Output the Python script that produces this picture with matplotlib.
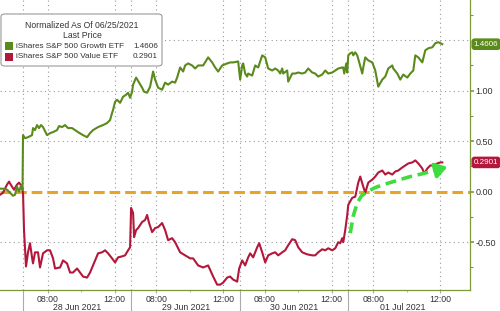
import numpy as np
import matplotlib
matplotlib.use("Agg")
import matplotlib.pyplot as plt
from matplotlib.patches import FancyBboxPatch, Rectangle

plt.rcParams['font.family'] = ['Liberation Sans', 'DejaVu Sans']

# x = trading-session hours since 28 Jun 06:30 (each day = 6.5 h), 25 Jun tail is negative
growth_x = [-1.38, -1.2, -0.96, -0.78, -0.6, -0.48, -0.36, -0.24, -0.12, -0.03,
            0.0, 0.12, 0.3, 0.54, 0.6, 0.72, 0.84, 0.96, 1.08, 1.2, 1.44, 1.62, 1.8, 2.04, 2.16,
            2.34, 2.52, 2.7, 2.94, 3.12, 3.3, 3.6, 3.84, 4.02, 4.2, 4.5, 4.8, 5.04, 5.22, 5.34,
            5.4, 5.52, 5.64, 5.82, 6.0, 6.18, 6.3, 6.42, 6.54, 6.6, 6.78, 6.96, 7.14, 7.26, 7.44,
            7.62, 7.74, 7.8, 7.92, 8.1, 8.34, 8.52, 8.7, 8.94, 9.12, 9.24, 9.42, 9.6, 9.72, 9.9,
            10.14, 10.32, 10.5, 10.8, 11.1, 11.34, 11.52, 11.7, 11.94, 12.24, 12.42, 12.6, 12.9,
            13.02, 13.14, 13.2, 13.32, 13.44, 13.5, 13.74, 13.92, 14.1, 14.34, 14.52, 14.7, 14.94,
            15.12, 15.3, 15.42, 15.54, 15.6, 15.84, 15.9, 16.14, 16.32, 16.5, 16.74, 16.92, 17.1,
            17.34, 17.52, 17.7, 17.94, 18.12, 18.3, 18.54, 18.72, 18.9, 19.14, 19.2, 19.26, 19.38,
            19.44, 19.5, 19.62, 19.74, 19.8, 19.92, 20.04, 20.16, 20.34, 20.4, 20.52, 20.7, 20.94,
            21.12, 21.24, 21.3, 21.54, 21.72, 21.9, 22.14, 22.2, 22.44, 22.62, 22.8, 23.04, 23.22,
            23.4, 23.52, 23.7, 23.94, 24.12, 24.3, 24.54, 24.72, 24.9, 25.14]
growth_y = [0.03, 0.03, 0.02, -0.01, -0.04, -0.03, 0.05, 0.0, 0.06, 0.02,
            0.56, 0.53, 0.54, 0.56, 0.63, 0.61, 0.66, 0.63, 0.66, 0.64, 0.56, 0.58, 0.59, 0.61, 0.65,
            0.64, 0.66, 0.63, 0.63, 0.61, 0.59, 0.56, 0.54, 0.58, 0.61, 0.64, 0.66, 0.68, 0.71, 0.78,
            0.81, 0.89, 0.91, 0.88, 0.94, 0.96, 0.98, 0.93, 0.99, 1.06, 1.13, 1.08, 1.03, 0.99, 0.98,
            1.04, 1.14, 1.19, 1.11, 1.03, 1.01, 1.08, 1.06, 1.09, 1.08, 1.13, 1.23, 1.19, 1.25, 1.27,
            1.25, 1.22, 1.25, 1.25, 1.33, 1.28, 1.23, 1.19, 1.25, 1.27, 1.28, 1.28, 1.29,
            1.11, 1.25, 1.27, 1.17, 1.14, 1.17, 1.15, 1.25, 1.23, 1.35, 1.33, 1.22, 1.2,
            1.22, 1.2, 1.17, 1.22, 1.17, 1.2, 1.09, 1.17, 1.17, 1.18, 1.17, 1.18, 1.22,
            1.18, 1.17, 1.14, 1.16, 1.2, 1.17, 1.18, 1.2, 1.22, 1.23, 1.23, 1.17, 1.27,
            1.18, 1.35, 1.37, 1.38, 1.35, 1.38, 1.35, 1.28, 1.17, 1.23, 1.33, 1.3, 1.28,
            1.2, 1.09, 1.04, 1.11, 1.14, 1.22, 1.25, 1.22, 1.17, 1.11, 1.16, 1.13, 1.17,
            1.2, 1.35, 1.33, 1.28, 1.4, 1.42, 1.43, 1.47, 1.48, 1.4606]

value_x = [-1.38, -1.2, -0.96, -0.84, -0.66, -0.54, -0.36, -0.24, -0.06,
           0.0, 0.06, 0.18, 0.3, 0.42, 0.54, 0.6, 0.72, 0.9, 1.02, 1.2, 1.44, 1.62, 1.8, 1.92,
           2.22, 2.4, 2.64, 2.82, 3.0, 3.24, 3.42, 3.6, 3.84, 4.02, 4.32, 4.5, 4.74, 4.92, 5.1,
           5.34, 5.52, 5.7, 5.94, 6.12, 6.3, 6.42, 6.48, 6.6, 6.66, 6.78, 6.9, 7.14, 7.32, 7.44,
           7.56, 7.74, 7.92, 8.1, 8.34, 8.52, 8.7, 8.94, 9.12, 9.42, 9.72, 10.02, 10.2, 10.5,
           10.8, 11.1, 11.4, 11.64, 11.82, 12.0, 12.24, 12.42, 12.6, 12.84, 12.96, 13.14, 13.32,
           13.5, 13.62, 13.8, 14.04, 14.16, 14.34, 14.52, 14.7, 14.94, 15.12, 15.3, 15.54, 15.72,
           15.9, 16.14, 16.32, 16.5, 16.74, 17.04, 17.34, 17.52, 17.7, 17.94, 18.12, 18.3, 18.54,
           18.72, 18.9, 19.02, 19.14, 19.2, 19.32, 19.44, 19.5, 19.74, 19.92, 20.1, 20.22, 20.4,
           20.52, 20.7, 20.94, 21.12, 21.3, 21.54, 21.72, 21.9, 22.14, 22.32, 22.5, 22.74, 22.92,
           23.1, 23.34, 23.52, 23.7, 23.94, 24.06, 24.24, 24.42, 24.6, 24.84, 25.02, 25.14]
value_y = [-0.03, -0.01, 0.07, 0.1, 0.05, 0.02, 0.07, 0.09, 0.05,
           -0.01, -0.38, -0.74, -0.6, -0.51, -0.65, -0.71, -0.6, -0.6, -0.75, -0.61, -0.58, -0.58, -0.66, -0.76,
           -0.75, -0.68, -0.71, -0.8, -0.8, -0.76, -0.8, -0.84, -0.85, -0.8, -0.68, -0.61, -0.6, -0.58, -0.61,
           -0.66, -0.7, -0.65, -0.64, -0.63, -0.58, -0.55, -0.16, -0.21, -0.45, -0.38, -0.36, -0.3, -0.28, -0.23,
           -0.31, -0.4, -0.36, -0.35, -0.31, -0.38, -0.48, -0.46, -0.5, -0.6, -0.63, -0.66, -0.66, -0.73,
           -0.75, -0.73, -0.84, -0.92, -0.92, -0.9, -0.85, -0.84, -0.87, -0.89, -0.76, -0.68, -0.73,
           -0.65, -0.61, -0.65, -0.55, -0.51, -0.6, -0.7, -0.63, -0.61, -0.6, -0.63, -0.6, -0.58,
           -0.53, -0.47, -0.48, -0.55, -0.6, -0.62, -0.63, -0.63, -0.6, -0.57, -0.58, -0.56, -0.58,
           -0.56, -0.5, -0.51, -0.46, -0.5, -0.38, -0.23, -0.13, -0.06, -0.05, 0.09, 0.15, 0.05,
           -0.01, 0.09, 0.12, 0.15, 0.19, 0.21, 0.17, 0.19, 0.17, 0.2, 0.21, 0.24, 0.26,
           0.28, 0.29, 0.31, 0.28, 0.23, 0.18, 0.23, 0.26, 0.26, 0.28, 0.29, 0.2901]

# hand-drawn style trend arrow
arrow_x = [19.62, 19.8, 20.04, 20.3, 20.64, 21.1, 21.6, 22.4, 23.22, 24.0, 24.7]
arrow_y = [-0.41, -0.24, -0.11, -0.04, 0.0, 0.04, 0.07, 0.11, 0.15, 0.18, 0.21]
arrow_head = (25.45, 0.245)

days = ['28 Jun 2021', '29 Jun 2021', '30 Jun 2021', '01 Jul 2021']
session = 6.5
tick_hours = [1.5, 5.5]
tick_names = ['08:00', '12:00']

green = '#5b8a1c'
red = '#b3173b'
axis_col = '#7c9a3c'

fig = plt.figure(figsize=(5.0, 3.11), dpi=100)
ax = fig.add_axes([0.0, 21 / 311, 470 / 500, 290 / 311])
ax.set_xlim(-1.38, 26.8)
ax.set_ylim(-0.973, 1.898)

# grid
for yv in [1.5, 1.0, 0.5, -0.5]:
    ax.axhline(yv, color='#9a9a9a', lw=0.8, ls=(0, (1, 3)), zorder=1)
xt, xl = [], []
for d in range(len(days)):
    for h, n in zip(tick_hours, tick_names):
        xt.append(d * session + h)
        xl.append(n)
    ax.axvline(d * session, color='#9a9a9a', lw=0.8, ls=(0, (1, 3)), zorder=1)
    ax.plot([d * session, d * session], [-0.07, 0], transform=ax.get_xaxis_transform(),
            color='#aaaaaa', lw=0.8, clip_on=False)
    ax.text(d * session + session / 2, -0.06, days[d], transform=ax.get_xaxis_transform(),
            ha='center', va='center', fontsize=6.3, color='#333333')
for x in xt:
    ax.axvline(x, color='#9a9a9a', lw=0.8, ls=(0, (1, 3)), zorder=1)

ax.axhline(0, color='#e8a423', lw=2.2, ls=(0, (3.5, 1.6)), zorder=2)

ax.plot(value_x, value_y, color=red, lw=1.5, zorder=4)
ax.plot(growth_x, growth_y, color=green, lw=1.5, zorder=4)

ax.plot(arrow_x, arrow_y, color='#3fdc3f', lw=2.6, ls=(0, (3, 1.6)), zorder=5,
        solid_capstyle='butt', dash_capstyle='butt')
ax.annotate('', xy=arrow_head, xytext=(arrow_x[-1], arrow_y[-1]),
            arrowprops=dict(arrowstyle='-|>,head_length=0.7,head_width=0.45',
                            color='#3fdc3f', lw=2.6, shrinkA=0, shrinkB=0), zorder=5)

# axes styling
for s in ['top', 'left']:
    ax.spines[s].set_visible(False)
ax.spines['right'].set_color(axis_col)
ax.spines['bottom'].set_color(axis_col)
ax.spines['right'].set_linewidth(0.9)
ax.spines['bottom'].set_linewidth(0.9)
ax.yaxis.tick_right()
ax.set_yticks([1.0, 0.5, 0.0, -0.5])
ax.set_yticklabels(['1.00', '0.50', '0.00', '-0.50'])
ax.set_yticks([1.75, 1.25, 0.75, 0.25, -0.25, -0.75], minor=True)
ax.tick_params(axis='y', which='major', length=3, width=1.2, color=axis_col, pad=1,
               labelsize=6.5, labelcolor='#333333')
ax.tick_params(axis='y', which='minor', length=2, width=0.8, color=axis_col)
ax.set_xticks(xt)
ax.set_xticklabels(xl)
ax.set_xticks([d * session + 3.5 for d in range(len(days))], minor=True)
ax.tick_params(axis='x', which='major', length=2, color='#aaaaaa', pad=1.5,
               labelsize=6.3, labelcolor='#333333')
ax.tick_params(axis='x', which='minor', length=1.5, color='#aaaaaa')

# last price tags
for val, col in [(growth_y[-1], green), (value_y[-1], red)]:
    ax.text(1.008, val, '%.4f' % val, transform=ax.get_yaxis_transform(), ha='left', va='center',
            fontsize=5.8, color='white', clip_on=False, zorder=6,
            bbox=dict(boxstyle='round,pad=0.2,rounding_size=0.3', fc=col, ec=col))

# legend box
W, H = 500, 311
fig.patches.append(FancyBboxPatch((1 / W, 1 - 66 / H), 161 / W, 52 / H,
                                  boxstyle='round,pad=0,rounding_size=0.008',
                                  transform=fig.transFigure, fc='white', ec='#9a9a9a', lw=0.8,
                                  zorder=10))
fig.text(82 / W, 1 - 25 / H, 'Normalized As Of 06/25/2021', ha='center', va='center',
         fontsize=6.2, color='#333333', zorder=11)
fig.text(82 / W, 1 - 35 / H, 'Last Price', ha='center', va='center', fontsize=6.2,
         color='#333333', zorder=11)
for i, (name, val, col) in enumerate([('iShares S&P 500 Growth ETF', growth_y[-1], green),
                                      ('iShares S&P 500 Value ETF', value_y[-1], red)]):
    yc = 1 - (46 + 11 * i) / H
    fig.patches.append(Rectangle((5 / W, yc - 4 / H), 8 / W, 8 / H, transform=fig.transFigure,
                                 fc=col, ec='none', zorder=11))
    fig.text(16 / W, yc, name, ha='left', va='center', fontsize=5.9, color='#333333', zorder=11)
    fig.text(158 / W, yc, '%.4f' % val, ha='right', va='center', fontsize=5.9,
             color='#333333', zorder=11)

fig.savefig('out.png', dpi=100)
